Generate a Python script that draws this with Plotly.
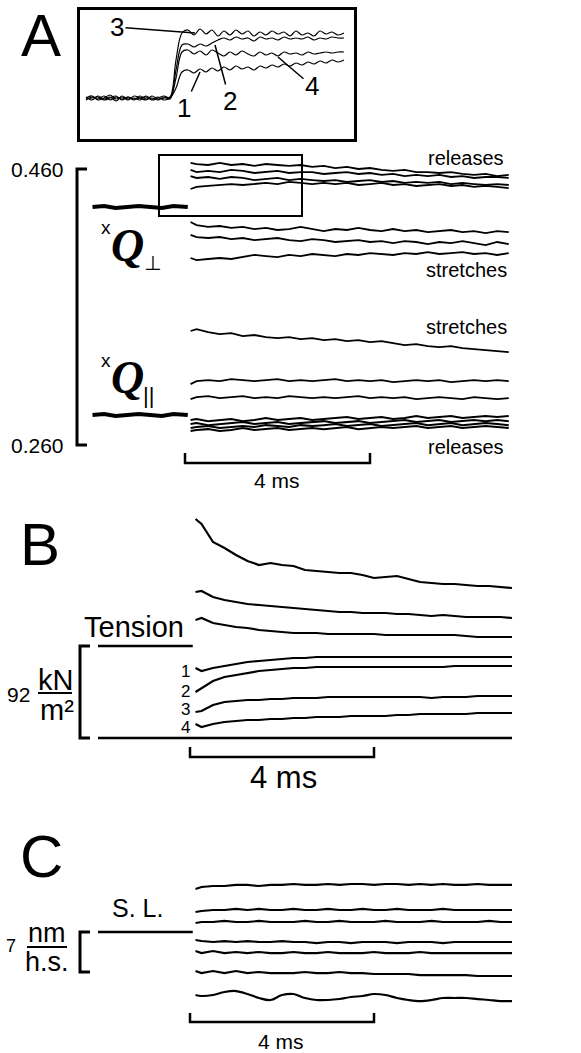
import plotly.graph_objects as go

W, H = 581, 1053
SANS = "Liberation Sans, Arial, sans-serif"
SERIF = "Liberation Serif, Times New Roman, serif"

# ---------------- data ----------------
t_pre = [-2.0, -1.75, -1.5, -1.25, -1.0, -0.75, -0.5, -0.25, 0.0, 0.06]
t_post = [0.12, 0.25, 0.5, 0.75, 1.0, 1.25, 1.5, 1.75, 2.0, 2.25, 2.5, 2.75, 3.0, 3.25, 3.5,
          3.75, 4.0, 4.25, 4.5, 4.75, 5.0, 5.25, 5.5, 5.75, 6.0, 6.25, 6.5, 6.75, 7.0]

# Panel A : xQ_perp and xQ_par (intensity ratio)
qperp_pre = [0.4324, 0.4332, 0.4317, 0.4324, 0.4332, 0.4324, 0.4317, 0.4332, 0.4324, 0.4324]
qpar_pre = [0.2817, 0.2824, 0.2810, 0.2817, 0.2824, 0.2817, 0.2810, 0.2824, 0.2817, 0.2817]

qperp_rel_3 = [0.4644, 0.4636, 0.4629, 0.4644, 0.4629, 0.4636, 0.4622, 0.4636, 0.4629, 0.4622,
               0.4629, 0.4615, 0.4622, 0.4607, 0.4615, 0.4600, 0.4607, 0.4593, 0.4586, 0.4593,
               0.4578, 0.4578, 0.4571, 0.4578, 0.4564, 0.4557, 0.4564, 0.4549, 0.4557]
qperp_rel_2 = [0.4593, 0.4578, 0.4586, 0.4578, 0.4593, 0.4586, 0.4571, 0.4578, 0.4586, 0.4571,
               0.4578, 0.4578, 0.4564, 0.4571, 0.4578, 0.4564, 0.4571, 0.4557, 0.4564, 0.4549,
               0.4557, 0.4549, 0.4557, 0.4542, 0.4549, 0.4535, 0.4542, 0.4542, 0.4535]
qperp_rel_4 = [0.4549, 0.4535, 0.4542, 0.4528, 0.4542, 0.4535, 0.4520, 0.4528, 0.4535, 0.4520,
               0.4528, 0.4520, 0.4513, 0.4520, 0.4506, 0.4513, 0.4520, 0.4506, 0.4513, 0.4499,
               0.4506, 0.4499, 0.4506, 0.4491, 0.4499, 0.4491, 0.4484, 0.4491, 0.4484]
qperp_rel_1 = [0.4455, 0.4470, 0.4477, 0.4484, 0.4491, 0.4484, 0.4491, 0.4499, 0.4491, 0.4506,
               0.4499, 0.4491, 0.4499, 0.4491, 0.4499, 0.4484, 0.4491, 0.4499, 0.4484, 0.4491,
               0.4477, 0.4484, 0.4491, 0.4477, 0.4484, 0.4470, 0.4477, 0.4470, 0.4462]
qperp_str_1 = [0.4216, 0.4194, 0.4180, 0.4187, 0.4173, 0.4180, 0.4165, 0.4173, 0.4158, 0.4165,
               0.4180, 0.4165, 0.4150, 0.4165, 0.4158, 0.4173, 0.4158, 0.4150, 0.4165, 0.4150,
               0.4158, 0.4143, 0.4150, 0.4158, 0.4143, 0.4150, 0.4136, 0.4150, 0.4143]
qperp_str_2 = [0.4122, 0.4107, 0.4100, 0.4107, 0.4092, 0.4100, 0.4085, 0.4092, 0.4100, 0.4085,
               0.4078, 0.4092, 0.4085, 0.4071, 0.4078, 0.4085, 0.4071, 0.4078, 0.4063, 0.4078,
               0.4071, 0.4056, 0.4071, 0.4063, 0.4078, 0.4063, 0.4049, 0.4071, 0.4056]
qperp_str_3 = [0.3955, 0.3940, 0.3948, 0.3955, 0.3948, 0.3962, 0.3977, 0.3969, 0.3962, 0.3977,
               0.3969, 0.3984, 0.3977, 0.3969, 0.3984, 0.3977, 0.3991, 0.3984, 0.3977, 0.3991,
               0.3984, 0.3998, 0.3984, 0.3991, 0.3998, 0.3984, 0.3991, 0.3977, 0.3991]
qpar_str_1 = [0.3426, 0.3440, 0.3418, 0.3404, 0.3411, 0.3389, 0.3397, 0.3382, 0.3375, 0.3382,
              0.3367, 0.3375, 0.3360, 0.3367, 0.3353, 0.3360, 0.3346, 0.3353, 0.3338, 0.3324,
              0.3331, 0.3317, 0.3309, 0.3317, 0.3302, 0.3295, 0.3288, 0.3280, 0.3273]
qpar_str_2 = [0.3041, 0.3063, 0.3070, 0.3063, 0.3078, 0.3070, 0.3063, 0.3070, 0.3078, 0.3063,
              0.3070, 0.3063, 0.3070, 0.3078, 0.3063, 0.3070, 0.3063, 0.3070, 0.3056, 0.3063,
              0.3070, 0.3063, 0.3070, 0.3056, 0.3063, 0.3070, 0.3063, 0.3070, 0.3063]
qpar_str_3 = [0.2932, 0.2947, 0.2954, 0.2940, 0.2947, 0.2954, 0.2940, 0.2947, 0.2940, 0.2954,
              0.2947, 0.2940, 0.2947, 0.2940, 0.2947, 0.2954, 0.2940, 0.2947, 0.2940, 0.2947,
              0.2932, 0.2940, 0.2947, 0.2940, 0.2932, 0.2947, 0.2940, 0.2932, 0.2940]
qpar_rel_a = [0.2781, 0.2788, 0.2773, 0.2781, 0.2788, 0.2773, 0.2781, 0.2795, 0.2781, 0.2788,
              0.2795, 0.2781, 0.2788, 0.2795, 0.2802, 0.2788, 0.2795, 0.2802, 0.2788, 0.2795,
              0.2810, 0.2795, 0.2802, 0.2810, 0.2795, 0.2802, 0.2810, 0.2802, 0.2810]
qpar_rel_b = [0.2752, 0.2759, 0.2744, 0.2752, 0.2759, 0.2766, 0.2752, 0.2759, 0.2766, 0.2752,
              0.2759, 0.2766, 0.2773, 0.2759, 0.2766, 0.2773, 0.2759, 0.2766, 0.2773, 0.2781,
              0.2766, 0.2773, 0.2781, 0.2766, 0.2773, 0.2781, 0.2773, 0.2781, 0.2773]
qpar_rel_c = [0.2723, 0.2730, 0.2737, 0.2723, 0.2730, 0.2737, 0.2730, 0.2744, 0.2737, 0.2730,
              0.2744, 0.2737, 0.2744, 0.2752, 0.2737, 0.2744, 0.2752, 0.2737, 0.2744, 0.2752,
              0.2759, 0.2744, 0.2752, 0.2759, 0.2744, 0.2752, 0.2759, 0.2752, 0.2744]
qpar_rel_d = [0.2701, 0.2708, 0.2715, 0.2701, 0.2708, 0.2723, 0.2708, 0.2715, 0.2723, 0.2708,
              0.2715, 0.2723, 0.2715, 0.2723, 0.2730, 0.2715, 0.2723, 0.2730, 0.2723, 0.2730,
              0.2737, 0.2723, 0.2730, 0.2737, 0.2723, 0.2730, 0.2737, 0.2730, 0.2723]
q_tick_vals = [0.260, 0.460]
q_tick_text = ["0.260", "0.460"]

# Inset of panel A (magnified xQ_perp releases 1-4)
t_in_pre = [-1.4, -1.3, -1.2, -1.1, -1.0, -0.9, -0.8, -0.7, -0.6, -0.5, -0.4, -0.3, -0.2, -0.1, 0.0]
t_in_post = [0.1, 0.2, 0.3, 0.4, 0.5, 0.6, 0.7, 0.8, 0.9, 1.0, 1.1, 1.2, 1.3, 1.4, 1.5,
             1.6, 1.7, 1.8, 1.9, 2.0, 2.1, 2.2, 2.3, 2.4, 2.5, 2.6, 2.7, 2.8, 2.9]
inset_pre_1 = [0.4329, 0.4314, 0.4334, 0.4319, 0.4329, 0.4309, 0.4334, 0.4319, 0.4324, 0.4314,
               0.4334, 0.4319, 0.4329, 0.4314, 0.4324]
inset_pre_2 = [0.4314, 0.4329, 0.4319, 0.4334, 0.4314, 0.4329, 0.4319, 0.4329, 0.4314, 0.4334,
               0.4319, 0.4324, 0.4314, 0.4329, 0.4319]
inset_pre_3 = [0.4324, 0.4334, 0.4314, 0.4324, 0.4339, 0.4319, 0.4329, 0.4314, 0.4334, 0.4324,
               0.4314, 0.4334, 0.4319, 0.4324, 0.4329]
inset_pre_4 = [0.4319, 0.4324, 0.4329, 0.4314, 0.4324, 0.4334, 0.4314, 0.4329, 0.4319, 0.4324,
               0.4329, 0.4314, 0.4324, 0.4334, 0.4324]
inset_post_3 = [0.4514, 0.4649, 0.4664, 0.4639, 0.4669, 0.4644, 0.4664, 0.4634, 0.4659, 0.4639,
                0.4664, 0.4644, 0.4659, 0.4634, 0.4654, 0.4639, 0.4659, 0.4644, 0.4654, 0.4634,
                0.4659, 0.4639, 0.4649, 0.4634, 0.4659, 0.4644, 0.4654, 0.4639, 0.4649]
inset_post_2 = [0.4464, 0.4589, 0.4594, 0.4579, 0.4594, 0.4584, 0.4599, 0.4614, 0.4624, 0.4614,
                0.4629, 0.4619, 0.4624, 0.4609, 0.4629, 0.4619, 0.4624, 0.4614, 0.4629, 0.4619,
                0.4624, 0.4619, 0.4629, 0.4614, 0.4624, 0.4619, 0.4629, 0.4624, 0.4624]
inset_post_4 = [0.4424, 0.4554, 0.4564, 0.4544, 0.4559, 0.4539, 0.4564, 0.4549, 0.4534, 0.4554,
                0.4539, 0.4559, 0.4544, 0.4534, 0.4554, 0.4539, 0.4549, 0.4534, 0.4554, 0.4544,
                0.4549, 0.4539, 0.4554, 0.4544, 0.4549, 0.4554, 0.4549, 0.4554, 0.4554]
inset_post_1 = [0.4374, 0.4454, 0.4464, 0.4449, 0.4469, 0.4454, 0.4474, 0.4459, 0.4479, 0.4464,
                0.4484, 0.4469, 0.4479, 0.4464, 0.4484, 0.4474, 0.4489, 0.4479, 0.4494, 0.4484,
                0.4499, 0.4489, 0.4504, 0.4494, 0.4509, 0.4499, 0.4514, 0.4504, 0.4514]

# Panel B : tension (kN/m^2)
tension_pre = [92, 92, 92, 92, 92, 92, 92, 92, 92, 92]
tension_zero = [0, 0]
t_zero = [-2.0, 7.0]
tens_str_1 = [219, 214, 196, 190, 183, 177, 173, 175, 173, 172, 168, 167, 166, 165, 165,
              163, 160, 161, 162, 159, 156, 155, 154, 154, 153, 152, 152, 151, 150]
tens_str_2 = [146, 147, 141, 138, 136, 134, 133, 132, 131, 130, 129, 128, 127, 126, 126,
              125, 125, 125, 124, 124, 123, 122, 123, 122, 121, 121, 121, 121, 120]
tens_str_3 = [118, 120, 115, 113, 111, 110, 108, 107, 106, 105, 105, 105, 104, 104, 104,
              104, 104, 103, 103, 103, 103, 103, 103, 103, 102, 101, 101, 101, 101]
tens_rel_1 = [70, 67, 70, 72, 74, 76, 77, 78, 79, 80, 80, 81, 81, 81, 81,
              81, 81, 81, 81, 81, 81, 81, 81, 81, 81, 81, 81, 81, 81]
tens_rel_2 = [46, 50, 57, 61, 63, 65, 67, 68, 69, 70, 70, 71, 71, 71, 71,
              71, 71, 71, 71, 71, 71, 71, 71, 72, 72, 72, 72, 72, 72]
tens_rel_3 = [26, 27, 33, 36, 37, 38, 38, 39, 39, 40, 40, 40, 41, 41, 41,
              41, 41, 41, 41, 41, 41, 40, 41, 41, 41, 42, 42, 42, 42]
tens_rel_4 = [14, 11, 14, 16, 17, 18, 18, 19, 19, 20, 20, 21, 21, 21, 22,
              22, 22, 22, 23, 23, 24, 24, 24, 24, 24, 25, 25, 25, 25]
tension_scale = [0, 92]

# Panel C : sarcomere length change (nm per half-sarcomere)
sl_pre = [0, 0, 0, 0, 0, 0, 0, 0, 0, 0]
sl_1 = [7.53, 7.88, 8.05, 8.05, 8.23, 8.23, 8.05, 8.23, 8.23, 8.40, 8.23, 8.23, 8.40, 8.23, 8.40,
        8.40, 8.23, 8.40, 8.40, 8.23, 8.40, 8.23, 8.40, 8.23, 8.23, 8.40, 8.23, 8.23, 8.23]
sl_2 = [3.50, 3.68, 3.85, 3.85, 4.03, 3.85, 4.03, 3.85, 3.85, 4.03, 3.85, 3.85, 4.03, 3.85, 3.85,
        4.03, 3.85, 3.85, 4.03, 3.85, 3.85, 3.85, 4.03, 3.85, 3.85, 3.85, 3.85, 3.85, 3.85]
sl_3 = [1.58, 1.75, 1.75, 1.93, 1.75, 1.75, 1.93, 1.75, 1.75, 1.75, 1.93, 1.75, 1.75, 1.93, 1.75,
        1.75, 1.75, 1.93, 1.75, 1.75, 1.75, 1.93, 1.75, 1.75, 1.75, 1.75, 1.93, 1.75, 1.75]
sl_4 = [-1.40, -1.58, -1.75, -1.58, -1.75, -1.58, -1.75, -1.75, -1.58, -1.75, -1.75, -1.93, -1.75,
        -1.75, -1.93, -1.75, -1.75, -1.75, -1.93, -1.75, -1.75, -1.75, -1.93, -1.75, -1.75, -1.75,
        -1.75, -1.75, -1.75]
sl_5 = [-3.33, -3.68, -3.33, -3.68, -3.50, -3.68, -3.50, -3.68, -3.68, -3.50, -3.68, -3.68, -3.50,
        -3.68, -3.68, -3.68, -3.50, -3.68, -3.68, -3.68, -3.50, -3.68, -3.68, -3.68, -3.68, -3.68,
        -3.68, -3.68, -3.68]
sl_6 = [-6.83, -7.18, -6.83, -7.18, -6.83, -7.18, -7.00, -7.18, -7.18, -7.18, -7.00, -7.18, -7.18,
        -7.00, -7.18, -7.18, -7.35, -7.35, -7.35, -7.35, -7.53, -7.53, -7.53, -7.53, -7.53, -7.70,
        -7.70, -7.70, -7.70]
sl_7 = [-11.03, -11.20, -11.03, -10.50, -10.33, -10.85, -11.55, -11.90, -11.03, -10.85, -11.55,
        -11.90, -11.90, -11.73, -11.38, -11.20, -10.85, -11.03, -11.55, -11.90, -12.08, -11.90,
        -11.55, -11.55, -11.55, -11.73, -11.90, -12.08, -12.08]
sl_scale = [-7, 0]

time_bar = [0, 4]  # ms

# ---------------- layout helpers ----------------
def xp(px):
    return px / W

def yp(py):
    return 1 - py / H

def lin_range(v_a, p_a, v_b, p_b, p_lo, p_hi):
    f = lambda p: v_a + (v_b - v_a) * (p - p_a) / (p_b - p_a)
    return [f(p_lo), f(p_hi)]

fig = go.Figure()
BLK = "black"

def line(x, y, xa, ya, width=1.8, shape="linear"):
    fig.add_trace(go.Scatter(x=x, y=y, mode="lines", xaxis=xa, yaxis=ya,
                             line=dict(color=BLK, width=width, shape=shape),
                             hoverinfo="skip", showlegend=False))

# Panel A traces
line(t_pre, qperp_pre, "x", "y", 4)
line(t_pre, qpar_pre, "x", "y", 4)
for s in [qperp_rel_3, qperp_rel_2, qperp_rel_4, qperp_rel_1, qperp_str_1, qperp_str_2,
          qperp_str_3, qpar_str_1, qpar_str_2, qpar_str_3]:
    line(t_post, s, "x", "y", 1.8)
for s in [qpar_rel_a, qpar_rel_b, qpar_rel_c, qpar_rel_d]:
    line(t_post, s, "x", "y", 2.0)

# Inset traces
for pre, post in [(inset_pre_1, inset_post_1), (inset_pre_2, inset_post_2),
                  (inset_pre_3, inset_post_3), (inset_pre_4, inset_post_4)]:
    line(t_in_pre + t_in_post, pre + post, "x4", "y4", 1.2, "spline")

# Panel B traces
line(t_pre, tension_pre, "x2", "y2", 2.5)
line(t_zero, tension_zero, "x2", "y2", 2.5)
for s in [tens_str_1, tens_str_2, tens_str_3, tens_rel_1, tens_rel_2, tens_rel_3, tens_rel_4]:
    line(t_post, s, "x2", "y2", 2.2)

# Panel C traces
line(t_pre, sl_pre, "x3", "y3", 2.5)
for s in [sl_1, sl_2, sl_3, sl_4, sl_5, sl_6]:
    line(t_post, s, "x3", "y3", 2.2)
line(t_post, sl_7, "x3", "y3", 2.2, "spline")

hidden = dict(visible=False, fixedrange=True)
fig.update_layout(
    width=W, height=H, margin=dict(l=0, r=0, t=0, b=0),
    paper_bgcolor="white", plot_bgcolor="rgba(0,0,0,0)", showlegend=False,
    xaxis=dict(domain=[0, 1], range=lin_range(0, 185, 4, 370, 0, W), anchor="y", **hidden),
    yaxis=dict(domain=[0, 1], range=lin_range(0.460, 169, 0.260, 445, H, 0), anchor="x", **hidden),
    xaxis2=dict(domain=[0, 1], range=lin_range(0, 190, 4, 374, 0, W), anchor="y2", **hidden),
    yaxis2=dict(domain=[0, 1], range=lin_range(92, 646, 0, 738, H, 0), anchor="x2", **hidden),
    xaxis3=dict(domain=[0, 1], range=lin_range(0, 190, 4, 374, 0, W), anchor="y3", **hidden),
    yaxis3=dict(domain=[0, 1], range=lin_range(0, 932, -7, 972, H, 0), anchor="x3", **hidden),
    xaxis4=dict(domain=[xp(80), xp(354)], range=lin_range(0, 170, 1, 230, 80, 354), anchor="y4",
                showline=True, mirror=True, linecolor=BLK, linewidth=2.5, showgrid=False,
                zeroline=False, showticklabels=False, ticks="", fixedrange=True),
    yaxis4=dict(domain=[yp(139), yp(10)], range=lin_range(0.4324, 98, 0.4314, 100, 139, 10),
                anchor="x4", showline=True, mirror=True, linecolor=BLK, linewidth=2.5,
                showgrid=False, zeroline=False, showticklabels=False, ticks="", fixedrange=True),
)

shapes = []
def path_shape(path, xref, yref, width=2.5):
    shapes.append(dict(type="path", path=path, xref=xref, yref=yref,
                       line=dict(color=BLK, width=width)))

# Panel A: bracket for Q (0.260 - 0.460)
lo, hi = q_tick_vals
path_shape(f"M {xp(87)},{hi} L {xp(77)},{hi} L {xp(77)},{lo} L {xp(87)},{lo}", "paper", "y", 3)
# zoom box on main panel
shapes.append(dict(type="rect", xref="paper", yref="paper", x0=xp(159), x1=xp(302),
                   y0=yp(216), y1=yp(155), line=dict(color=BLK, width=2)))
# time scale bars
t0, t1 = time_bar
path_shape(f"M {t0},{yp(453)} L {t0},{yp(463)} L {t1},{yp(463)} L {t1},{yp(453)}", "x", "paper")
path_shape(f"M {t0},{yp(747)} L {t0},{yp(757)} L {t1},{yp(757)} L {t1},{yp(747)}", "x2", "paper")
path_shape(f"M {t0},{yp(1013)} L {t0},{yp(1022)} L {t1},{yp(1022)} L {t1},{yp(1013)}", "x3", "paper")
# Panel B bracket (0 - 92 kN/m2)
blo, bhi = tension_scale
path_shape(f"M {xp(90)},{bhi} L {xp(80)},{bhi} L {xp(80)},{blo} L {xp(90)},{blo}", "paper", "y2", 3)
# Panel C bracket (7 nm/h.s.)
clo, chi = sl_scale
path_shape(f"M {xp(90)},{chi} L {xp(80)},{chi} L {xp(80)},{clo} L {xp(90)},{clo}", "paper", "y3", 3)
# fraction bars
shapes.append(dict(type="line", xref="paper", yref="paper", x0=xp(38), x1=xp(72), y0=yp(693),
                   y1=yp(693), line=dict(color=BLK, width=2)))
shapes.append(dict(type="line", xref="paper", yref="paper", x0=xp(27), x1=xp(67), y0=yp(947),
                   y1=yp(947), line=dict(color=BLK, width=2)))
fig.update_layout(shapes=shapes)

anns = []
def ann(text, px, py, size, family=SANS, xanchor="center", yanchor="middle"):
    anns.append(dict(text=text, x=xp(px), y=yp(py), xref="paper", yref="paper", showarrow=False,
                     font=dict(size=size, family=family, color=BLK), xanchor=xanchor,
                     yanchor=yanchor))

def pointer(text, tip_px, tip_py, dx, dy, size=26):
    anns.append(dict(text=text, x=xp(tip_px), y=yp(tip_py), xref="paper", yref="paper",
                     showarrow=True, arrowhead=0, arrowwidth=1.5, arrowcolor=BLK, ax=dx, ay=dy,
                     standoff=0, font=dict(size=size, family=SANS, color=BLK)))

# panel letters
ann("A", 41, 36, 60)
ann("B", 40, 544, 60)
ann("C", 41, 856, 60)

# inset pointers
pointer("3", 195, 33, -78, -6)
pointer("1", 200, 72, -16, 36)
pointer("2", 215, 45, 15, 56)
pointer("4", 278, 57, 34, 29)

# Panel A labels
for v, s in zip(q_tick_vals, q_tick_text):
    anns.append(dict(text=s, x=xp(66), y=v, xref="paper", yref="y", showarrow=False,
                     font=dict(size=21, family=SANS, color=BLK), xanchor="right",
                     yanchor="middle"))
ann("releases", 466, 158, 20)
ann("stretches", 466, 270, 20)
ann("stretches", 466, 327, 20)
ann("releases", 466, 447, 20)
ann("x", 106, 228, 19)
ann("<b><i>Q</i></b>", 127, 245, 46, SERIF)
ann("\u22a5", 152, 263, 20, "DejaVu Sans")
ann("x", 106, 360, 19)
ann("<b><i>Q</i></b>", 127, 377, 46, SERIF)
ann("||", 148, 395, 22)
ann("4 ms", 277, 480, 21)

# Panel B labels
ann("Tension", 134, 627, 29)
ann("92", 18, 694, 21)
ann("kN", 55, 680, 29)
ann("m\u00b2", 57, 710, 29)
for lbl, py in zip(["1", "2", "3", "4"], [671, 691, 709, 727]):
    ann(lbl, 185, py, 17)
ann("4 ms", 283, 777, 31)

# Panel C labels
ann("S. L.", 137, 908, 25)
ann("7", 11, 946, 18)
ann("nm", 47, 933, 27)
ann("h.s.", 47, 962, 27)
ann("4 ms", 281, 1041, 21)

fig.update_layout(annotations=anns)
fig.write_html("out.html", config={"displayModeBar": False},
               post_script="document.body.style.margin='0';document.body.style.overflow='hidden';")
